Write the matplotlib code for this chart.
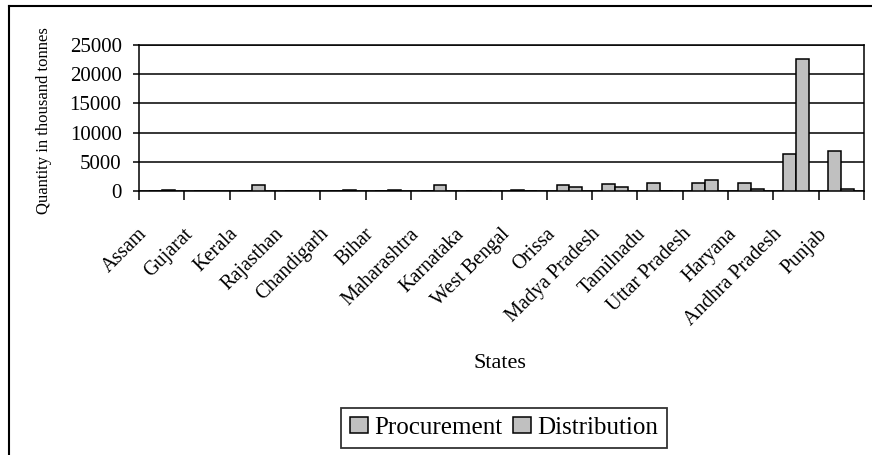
import matplotlib
matplotlib.use("Agg")
import matplotlib.pyplot as plt
from matplotlib.lines import Line2D
from matplotlib.transforms import ScaledTranslation
import numpy as np

plt.rcParams['font.family'] = ['Liberation Serif', 'DejaVu Serif']

states = ["Assam", "Gujarat", "Kerala", "Rajasthan", "Chandigarh", "Bihar",
          "Maharashtra", "Karnataka", "West Bengal", "Orissa", "Madya Pradesh",
          "Tamilnadu", "Uttar Pradesh", "Haryana", "Andhra Pradesh", "Punjab"]
procurement = [0, 0, 0, 0, 0, 0, 0, 0, 250, 1100, 1150, 1450, 1450, 1450, 6300, 6900]
distribution = [250, 0, 1100, 0, 250, 250, 1100, 0, 0, 750, 720, 0, 1800, 300, 22650, 300]
y_ticks = [0, 5000, 10000, 15000, 20000, 25000]

W, H = 872, 455
fig = plt.figure(figsize=(W / 100, H / 100), dpi=100)
ax = fig.add_axes([139 / W, 1 - 191 / H, 725 / W, 146 / H])

x = np.arange(len(states))
bw = 0.285
bar_color = "#c0c0c0"
ax.bar(x - bw, procurement, width=bw, align="edge", color=bar_color,
       edgecolor="black", linewidth=1.1, label="Procurement", zorder=3)
ax.bar(x, distribution, width=bw, align="edge", color=bar_color,
       edgecolor="black", linewidth=1.1, label="Distribution", zorder=3)

ax.set_xlim(-0.5, len(states) - 0.5)
ax.set_ylim(0, 25000)
ax.set_yticks(y_ticks)
ax.set_yticklabels([str(v) for v in y_ticks], fontsize=15)
ax.yaxis.grid(True, color="black", linewidth=1.1, zorder=1)
ax.set_axisbelow(True)
for s in ax.spines.values():
    s.set_linewidth(1.1)
    s.set_color("black")
ax.tick_params(axis="y", direction="out", length=4.5, width=1.1, pad=8)

# category boundary tick marks
ax.set_xticks(np.arange(-0.5, len(states)), minor=True)
ax.tick_params(axis="x", which="minor", direction="out", length=6.5, width=1.1)
ax.set_xticks(x)
ax.set_xticklabels(states, rotation=45, ha="right", va="center",
                   rotation_mode="anchor", fontsize=14.5)
ax.tick_params(axis="x", which="major", length=0, pad=29)
shift = ScaledTranslation(-17 / 100, 0, fig.dpi_scale_trans)
for lab in ax.get_xticklabels():
    lab.set_transform(lab.get_transform() + shift)

fig.text(44 / W, 1 - 121 / H, "Quantity in thousand tonnes", rotation=90,
         ha="center", va="center", fontsize=12)
fig.text(500 / W, 1 - 364 / H, "States", ha="center", va="center", fontsize=16)

leg = fig.legend(loc="center", bbox_to_anchor=(504 / W, 1 - 428 / H),
                 ncol=2, fontsize=18, frameon=True, fancybox=False,
                 handlelength=0.72, handleheight=0.62, handletextpad=0.25,
                 columnspacing=0.45, borderpad=0.35, borderaxespad=0)
leg.get_frame().set_edgecolor("black")
leg.get_frame().set_linewidth(1.3)

# chart area border (left and top edges)
fig.add_artist(Line2D([9 / W, 9 / W], [0, 1 - 6 / H], color="black", linewidth=1.5,
                      transform=fig.transFigure))
fig.add_artist(Line2D([9 / W, 1], [1 - 6 / H, 1 - 6 / H], color="black", linewidth=1.5,
                      transform=fig.transFigure))

fig.savefig("out.png", dpi=100)
